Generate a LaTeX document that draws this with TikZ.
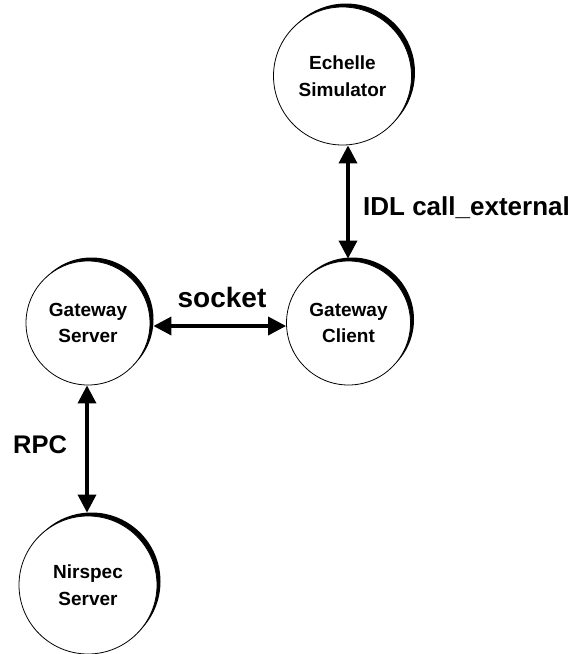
\documentclass[tikz,border=0pt]{standalone}
\usepackage{fontspec}
\setmainfont{Liberation Sans}
\usetikzlibrary{arrows.meta,shadows}
\begin{document}
\begin{tikzpicture}[x=1pt,y=-1pt,
  proc/.style={circle, draw=black, line width=0.8pt, fill=white, inner sep=0pt, align=center,
    font=\fontsize{19}{26.5}\selectfont\bfseries,
    drop shadow={shadow xshift=3.5pt, shadow yshift=3.5pt, opacity=1, fill=black}},
  bigproc/.style={proc, minimum size=138pt},
  smallproc/.style={proc, minimum size=124pt},
  link/.style={line width=3.5pt, {Triangle[length=18pt,width=18pt]}-{Triangle[length=18pt,width=18pt]}},
  lbl/.style={inner sep=0pt, font=\bfseries}]
\useasboundingbox (0,0) rectangle (574,654);
\node[bigproc] (es) at (342.5,76) {Echelle\\Simulator};
\node[smallproc] (gs) at (88,323) {Gateway\\Server};
\node[smallproc] (gc) at (348.5,323) {Gateway\\Client};
\node[bigproc] (ns) at (88,585) {Nirspec\\Server};
\draw[link] ([shift={(3pt,-3pt)}]gs.east) -- ([yshift=-3pt]gc.west);
\draw[link] ([xshift=5.5pt]es.south) -- ([shift={(-0.5pt,2pt)}]gc.north);
\draw[link] ([xshift=-1pt]gs.south) -- ([shift={(-1pt,3pt)}]ns.north);
\node[lbl, anchor=base, font=\fontsize{28}{32}\selectfont\bfseries] (sock) at (222,307) {socket};
\node[lbl, anchor=base west, font=\fontsize{26}{30}\selectfont\bfseries] (idl) at (363,215) {IDL call\_external};
\node[lbl, anchor=base west, font=\fontsize{25.5}{30}\selectfont\bfseries] (rpc) at (13,453) {RPC};
\end{tikzpicture}
\end{document}
